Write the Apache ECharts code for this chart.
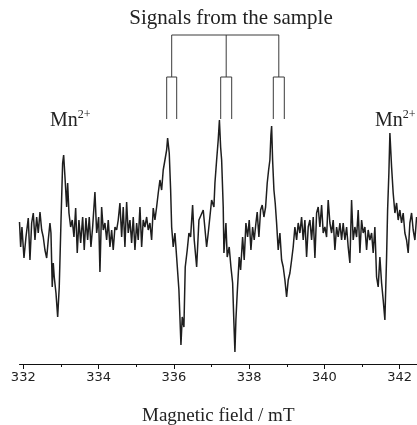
<!DOCTYPE html>
<html>
<head>
<meta charset="utf-8">
<script src="https://cdn.jsdelivr.net/npm/echarts@6/dist/echarts.min.js"></script>
<style>
html,body{margin:0;padding:0;background:#fff;}
#chart{width:417px;height:425px;}
</style>
</head>
<body>
<div id="chart"></div>
<script>
// Magnetic field (mT)
const field = [
331.900,331.931,331.965,332.019,332.072,332.133,332.178,332.223,332.266,332.311,
332.356,332.398,332.444,332.489,332.531,332.576,332.622,332.664,332.709,332.736,
332.770,332.797,332.823,332.869,332.914,332.956,333.001,333.046,333.073,333.108,
333.153,333.179,333.214,333.259,333.301,333.347,333.392,333.434,333.479,333.525,
333.578,333.620,333.665,333.710,333.753,333.798,333.843,333.904,333.950,334.003,
334.037,334.082,334.125,334.170,334.215,334.258,334.303,334.348,334.390,334.436,
334.481,334.523,334.568,334.614,334.656,334.701,334.746,334.789,334.834,334.879,
334.922,334.967,335.012,335.054,335.100,335.145,335.187,335.232,335.278,335.320,
335.365,335.410,335.453,335.498,335.543,335.586,335.631,335.676,335.718,335.764,
335.809,335.835,335.878,335.915,335.942,335.984,336.029,336.074,336.135,336.189,
336.223,336.268,336.303,336.356,336.401,336.446,336.499,336.542,336.606,336.667,
336.693,336.781,336.871,336.914,337.004,337.065,337.092,337.137,337.179,337.211,
337.243,337.270,337.312,337.331,337.384,337.418,337.471,337.517,337.562,337.596,
337.623,337.649,337.684,337.737,337.774,337.827,337.870,337.915,337.960,338.003,
338.048,338.093,338.135,338.181,338.215,338.260,338.305,338.348,338.393,338.438,
338.481,338.518,338.552,338.579,338.598,338.624,338.659,338.693,338.730,338.773,
338.818,338.863,338.906,338.951,338.996,339.039,339.084,339.129,339.171,339.216,
339.262,339.304,339.349,339.394,339.437,339.482,339.527,339.570,339.615,339.660,
339.703,339.748,339.793,339.835,339.880,339.926,339.968,340.013,340.058,340.101,
340.146,340.191,340.234,340.279,340.324,340.367,340.412,340.457,340.499,340.544,
340.590,340.632,340.677,340.722,340.765,340.810,340.855,340.898,340.943,340.988,
341.031,341.076,341.121,341.163,341.208,341.254,341.296,341.341,341.386,341.429,
341.474,341.519,341.562,341.607,341.652,341.679,341.713,341.740,341.785,341.827,
341.873,341.918,341.960,342.005,342.050,342.093,342.138,342.183,342.226,342.271,
342.316,342.359,342.404,342.449
];
// EPR signal intensity (arbitrary units)
const intensity = [
18,-7,13,-18,3,22,-20,17,27,0,
23,7,28,10,3,-10,-18,0,17,7,
-47,-23,-37,-53,-77,-47,17,77,85,63,
33,57,27,13,20,3,32,-13,20,-3,
23,-10,22,0,23,-7,13,48,7,23,
-32,33,10,17,0,20,-7,10,-10,13,
10,20,37,3,33,-7,38,7,20,-3,
23,-10,17,0,33,-7,20,13,23,10,
17,0,32,20,33,47,60,50,70,80,
90,102,87,50,13,-7,7,-17,-50,-105,
-77,-87,-27,-10,7,3,35,0,-27,20,
20,30,-7,7,40,33,57,80,100,120,
93,80,33,-13,17,-17,-7,-27,-43,-83,
-112,-80,-53,-17,-30,3,-20,17,3,20,
-10,13,0,17,28,3,30,35,23,33,
57,70,80,105,114,80,50,37,17,-10,
7,-20,-27,-40,-57,-40,-33,-20,-7,13,
0,17,7,23,0,20,-17,13,20,0,
23,-18,27,33,13,35,7,13,3,40,
17,7,20,-10,13,3,17,0,17,0,
13,-7,-23,40,0,13,3,30,-13,20,
7,13,-10,10,0,7,-13,13,-37,-47,
-17,-43,-60,-80,-17,30,67,107,73,47,
27,37,20,30,17,27,7,0,-13,17,
27,10,0,23
];
const majorTicks = [332, 334, 336, 338, 340, 342];
const minorTicks = [333, 335, 337, 339, 341];
const titleText = 'Signals from the sample';
const axisTitle = 'Magnetic field / mT';
const ionLabel = 'Mn';
const ionCharge = '2+';

const data = field.map((f, i) => [f, intensity[i]]);

const chart = echarts.init(document.getElementById('chart'), null, {renderer: 'canvas'});
const serif = '"Liberation Serif", "Times New Roman", serif';
const lineCol = '#3a3a3a';

function bracketLines() {
  const s = {stroke: lineCol, lineWidth: 1};
  const segs = [
    [171.7, 35, 279, 35],
    [171.7, 35, 171.7, 77], [226.2, 35, 226.2, 77], [278.8, 35, 278.8, 77],
    [166.7, 77, 176.7, 77], [166.7, 77, 166.7, 119], [176.7, 77, 176.7, 119],
    [220.7, 77, 231.7, 77], [220.7, 77, 220.7, 119], [231.7, 77, 231.7, 119],
    [273.3, 77, 284.3, 77], [273.3, 77, 273.3, 119], [284.3, 77, 284.3, 119]
  ];
  return segs.map(p => ({type: 'line', shape: {x1: p[0], y1: p[1], x2: p[2], y2: p[3]}, style: s, silent: true}));
}

function mnLabel(x) {
  return {
    type: 'text', x: x, y: 109,
    style: {
      text: '{a|' + ionLabel + '}{b|' + ionCharge + '}',
      rich: {
        a: {fontFamily: serif, fontSize: 20, fill: '#222', lineHeight: 24},
        b: {fontFamily: serif, fontSize: 12, fill: '#222', verticalAlign: 'top', lineHeight: 24, padding: [0, 0, 10, 0]}
      }
    }
  };
}

const option = {
  backgroundColor: '#fff',
  animation: false,
  grid: {left: 19.5, right: 0, top: 90, bottom: 61, containLabel: false, outerBoundsMode: 'none'},
  xAxis: [{
    type: 'value', min: 331.9, max: 342.46, position: 'bottom',
    name: axisTitle, nameLocation: 'middle', nameGap: 43,
    nameTextStyle: {fontFamily: serif, fontSize: 19, color: '#222'},
    axisLine: {show: true, onZero: false, lineStyle: {color: '#111', width: 1}},
    axisTick: {show: true, customValues: majorTicks, length: 5, lineStyle: {color: '#111'}},
    axisLabel: {show: true, customValues: majorTicks, margin: 7, fontFamily: '"DejaVu Sans", sans-serif', fontSize: 13, color: '#222'},
    splitLine: {show: false}
  }, {
    type: 'value', min: 331.9, max: 342.46, position: 'bottom',
    axisLine: {show: false, onZero: false},
    axisTick: {show: true, customValues: minorTicks, length: 3, lineStyle: {color: '#111'}},
    axisLabel: {show: false},
    splitLine: {show: false}
  }],
  yAxis: {type: 'value', min: -124, max: 150, show: false},
  series: [{
    type: 'line', data: data, xAxisIndex: 0, showSymbol: false, symbol: 'none',
    lineStyle: {color: '#1e1e1e', width: 1.5}, clip: true
  }],
  graphic: [
    {type: 'text', x: 231, y: 8, style: {text: titleText, fontFamily: serif, fontSize: 21, fill: '#222', textAlign: 'center'}},
    mnLabel(50),
    mnLabel(375)
  ].concat(bracketLines())
};
chart.setOption(option);
</script>
</body>
</html>
